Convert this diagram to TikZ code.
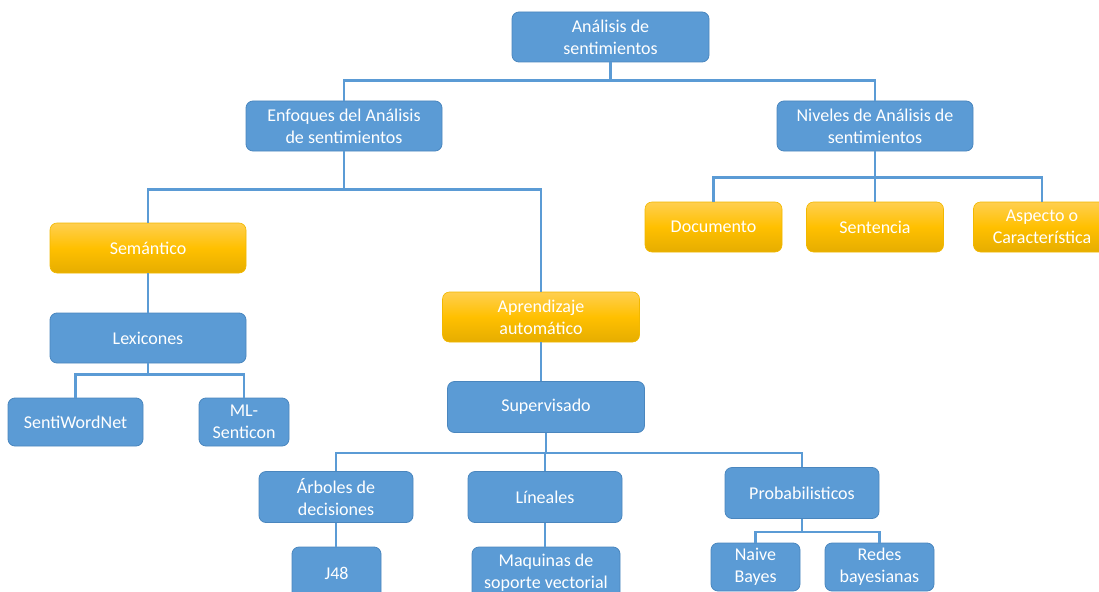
\documentclass[tikz,border=0pt]{standalone}
\usepackage{fontspec}
\setmainfont{Carlito}
\definecolor{boxblue}{HTML}{5B9BD5}
\definecolor{boxedge}{HTML}{4A86BE}
\definecolor{linkblue}{HTML}{5B9BD5}
\definecolor{goldtop}{HTML}{FFCF50}
\definecolor{goldmid}{HTML}{FFC000}
\definecolor{goldbot}{HTML}{E6AD00}
\definecolor{goldedge}{HTML}{F2B800}
\begin{document}
\begin{tikzpicture}[x=1pt,y=-1pt,
  every node/.style={font=\fontsize{18}{22}\selectfont, text=white, align=center, inner sep=0pt},
  bluebox/.style={draw=boxedge, line width=0.8pt, fill=boxblue, rounded corners=7pt},
  goldbox/.style={draw=goldedge, line width=0.6pt, top color=goldtop, bottom color=goldbot, middle color=goldmid, rounded corners=7pt},
  link/.style={draw=linkblue, line width=2.4pt}]
\useasboundingbox (0,0) rectangle (1099,591);
\clip (0,0) rectangle (1099,591);

% top level
\node[bluebox, minimum width=197pt, minimum height=50pt] (root) at (610.5,37) {Análisis de\\sentimientos};
\node[bluebox, minimum width=196pt, minimum height=50pt] (enf) at (344,126) {Enfoques del Análisis\\de sentimientos};
\node[bluebox, minimum width=196pt, minimum height=50pt] (niv) at (875,126) {Niveles de Análisis de\\sentimientos};

% levels of analysis
\node[goldbox, minimum width=137pt, minimum height=50pt] (doc) at (713.5,227) {Documento};
\node[goldbox, minimum width=137pt, minimum height=50pt] (sen) at (875,227) {Sentencia};
\node[goldbox, minimum width=137pt, minimum height=50pt] (asp) at (1042,227) {Aspecto o\\Característica};

% semantic branch
\node[goldbox, minimum width=196pt, minimum height=50pt] (sem) at (148,248) {Semántico};
\node[bluebox, minimum width=196pt, minimum height=50pt] (lex) at (148,338) {Lexicones};
\node[bluebox, minimum width=135pt, minimum height=48pt] (swn) at (75.5,422) {SentiWordNet};
\node[bluebox, minimum width=90pt, minimum height=48pt] (mls) at (244,422) {ML-\\Senticon};

% machine learning branch
\node[goldbox, minimum width=197pt, minimum height=50pt] (apr) at (541,317) {Aprendizaje\\automático};
\node[bluebox, minimum width=197pt, minimum height=51pt] (sup) at (546,407) {Supervisado};
\node[bluebox, minimum width=154pt, minimum height=51pt] (arb) at (336,497) {Árboles de\\decisiones};
\node[bluebox, minimum width=154pt, minimum height=51pt] (lin) at (545,497) {Líneales};
\node[bluebox, minimum width=154pt, minimum height=51pt] (prob) at (802,493) {Probabilisticos};
\node[bluebox, minimum width=89pt, minimum height=52pt] (j48) at (336.5,573) {J48};
\node[bluebox, minimum width=148pt, minimum height=52pt] (maq) at (546,573) {Maquinas de\\soporte vectorial};
\node[bluebox, minimum width=89pt, minimum height=48pt] (nb) at (755.5,567) {Naive\\Bayes};
\node[bluebox, minimum width=109pt, minimum height=48pt] (red) at (879.5,567) {Redes\\bayesianas};

% connectors
\draw[link] (root.south) -- ++(0,18) -| (enf.north);
\draw[link] (root.south) -- ++(0,18) -| (niv.north);
\draw[link] (enf.south) -- ++(0,38) -| (sem.north);
\draw[link] (enf.south) -- ++(0,38) -| (apr.north);
\draw[link] (niv.south) -- ++(0,26) -| (doc.north);
\draw[link] (niv.south) -- ++(0,26) -| (sen.north);
\draw[link] (niv.south) -- ++(0,26) -| (asp.north);
\draw[link] (sem.south) -- (lex.north);
\draw[link] (lex.south) -- ++(0,11) -| (swn.north);
\draw[link] (lex.south) -- ++(0,11) -| (mls.north);
\draw[link] (apr.south) -- (apr.south |- sup.north);
\draw[link] (sup.south) -- ++(0,20) -| (arb.north);
\draw[link] (sup.south) -- ++(0,20) -| (lin.north);
\draw[link] (sup.south) -- ++(0,20) -| (prob.north);
\draw[link] (arb.south) -- (arb.south |- j48.north);
\draw[link] (lin.south) -- (lin.south |- maq.north);
\draw[link] (prob.south) -- ++(0,13) -| (nb.north);
\draw[link] (prob.south) -- ++(0,13) -| (red.north);
\end{tikzpicture}
\end{document}
